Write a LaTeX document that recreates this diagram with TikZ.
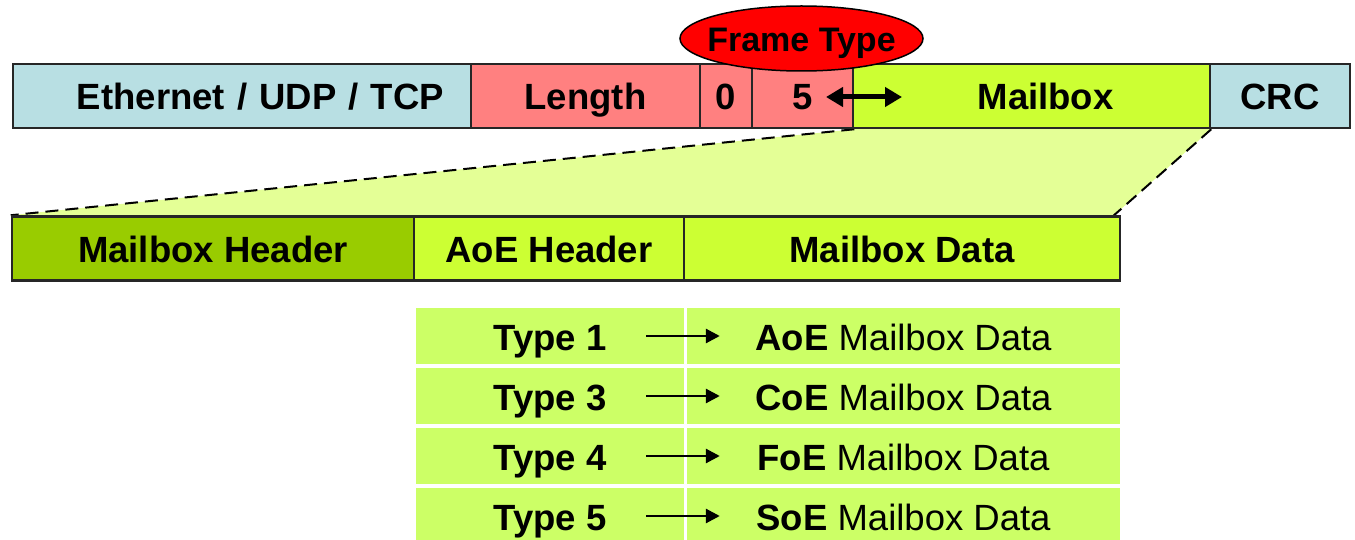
\documentclass[tikz,border=0pt]{standalone}
\usepackage{fontspec}
\setmainfont{Liberation Sans}
\usetikzlibrary{arrows.meta,shapes.geometric,backgrounds}
\definecolor{ethBlue}{RGB}{184,223,227}
\definecolor{lenRed}{RGB}{255,128,128}
\definecolor{limeGreen}{RGB}{204,255,51}
\definecolor{darkGreen}{RGB}{153,204,0}
\definecolor{zoomFill}{RGB}{228,255,150}
\definecolor{tabGreen}{RGB}{204,255,102}
\newcommand{\bigfont}{\fontsize{36.5}{44}\selectfont}

\begin{document}
\begin{tikzpicture}[x=1pt,y=-1pt,
    field/.style={draw=black!85,line width=2.5pt,minimum height=64pt,inner sep=0pt,
        text height=30pt,text depth=2pt,font=\bigfont\bfseries},
    cell/.style={fill=tabGreen,minimum height=56pt,inner sep=0pt,
        text height=30pt,text depth=2pt,font=\bigfont},
    zoomLine/.style={line width=2pt,dash pattern=on 13pt off 7pt}]
    \pgfmathsetmacro{\topY}{96}
    \pgfmathsetmacro{\midY}{248.5}

    \useasboundingbox (0,0) rectangle (1355,540);

    \node (eth) [field,fill=ethBlue,minimum width=458pt,text width=404pt,align=right] at (242,\topY) {Ethernet / UDP / TCP};
    \node (len) [field,fill=lenRed,minimum width=229pt] at (585.5,\topY) {Length};
    \node (zero) [field,fill=lenRed,minimum width=52pt] at (726,\topY) {0};
    \node (five) [field,fill=lenRed,minimum width=101pt] at (802.5,\topY) {5};
    \node (mbx) [field,fill=limeGreen,minimum width=357pt,text width=164pt,align=right] at (1031.5,\topY) {Mailbox};
    \node (crc) [field,fill=ethBlue,minimum width=140pt] at (1280,\topY) {CRC};

    \node (ftype) [ellipse,draw=black,line width=1.5pt,fill=red,minimum width=243pt,minimum height=65pt,inner sep=0pt,
        label={[font=\fontsize{34}{40}\selectfont\bfseries,text height=28pt,text depth=2pt]center:Frame Type}] at (801.5,38.5) {};

    \coordinate (arrL) at (826,97);
    \coordinate (arrR) at (902,97);
    \draw [{Triangle[length=17pt,width=19pt]}-{Triangle[length=17pt,width=19pt]},line width=5pt] (arrL) -- (arrR);

    \node (mbh) [field,fill=darkGreen,minimum width=402pt] at (213,\midY) {Mailbox Header};
    \node (aoeh) [field,fill=limeGreen,minimum width=270pt] at (549,\midY) {AoE Header};
    \node (mbd) [field,fill=limeGreen,minimum width=436pt] at (902,\midY) {Mailbox Data};

    \coordinate (zoomR) at (1112,217);
    \begin{scope}[on background layer]
        \fill [zoomFill] (five.south east) -- (mbx.south east) -- (zoomR) -- (mbh.north west) -- cycle;
        \draw [zoomLine] (five.south east) -- (mbh.north west);
        \draw [zoomLine] (mbx.south east) -- (zoomR);
    \end{scope}

    \foreach \n/\p/\y [count=\i] in {1/AoE/336,3/CoE/396,4/FoE/456,5/SoE/516} {
        \node (type\i) [cell,minimum width=268pt] at (550,\y) {\textbf{Type \n}};
        \node (data\i) [cell,minimum width=433pt] at (903.5,\y) {\textbf{\p} Mailbox Data};
        \draw [-{Triangle[length=14pt,width=14pt]},line width=2.8pt] ([xshift=-38pt]type\i.east) -- ([xshift=33pt]data\i.west);
    }
\end{tikzpicture}
\end{document}
